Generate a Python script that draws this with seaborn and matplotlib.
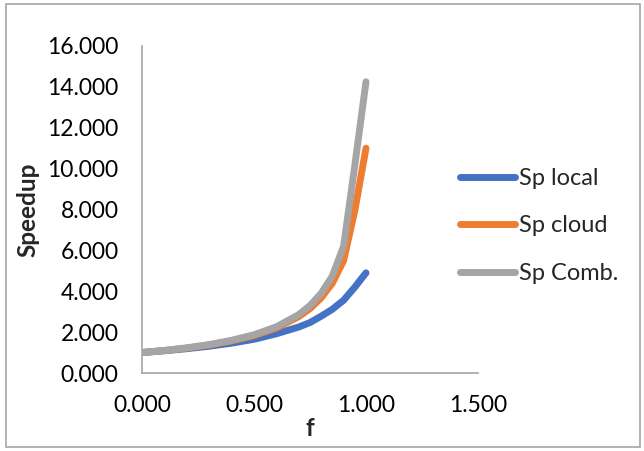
import numpy as np
import matplotlib
matplotlib.use("Agg")
import matplotlib.pyplot as plt
import pandas as pd
import seaborn as sns
from matplotlib.patches import Rectangle

# fraction f and speedup values
f_vals = [0.0, 0.1, 0.2, 0.3, 0.4, 0.5, 0.6, 0.7, 0.75, 0.8, 0.85, 0.9, 0.95, 1.0]
sp_local = [1.00, 1.09, 1.19, 1.31, 1.46, 1.65, 1.92, 2.25, 2.47, 2.78, 3.12, 3.56, 4.20, 4.90]
sp_cloud = [1.00, 1.10, 1.22, 1.37, 1.57, 1.83, 2.20, 2.76, 3.15, 3.68, 4.40, 5.50, 7.95, 11.00]
sp_comb = [1.00, 1.10, 1.23, 1.39, 1.60, 1.87, 2.26, 2.86, 3.30, 3.90, 4.75, 6.20, 10.15, 14.25]
series_names = ["Sp local", "Sp cloud", "Sp Comb."]
colors = ["#4472C4", "#ED7D31", "#A5A5A5"]

n = len(f_vals)
df = pd.DataFrame({
    "f": f_vals * 3,
    "speedup": sp_local + sp_cloud + sp_comb,
    "serie": [series_names[0]] * n + [series_names[1]] * n + [series_names[2]] * n,
})

sns.set_style("white")
plt.rcParams["font.family"] = ["Lato", "DejaVu Sans"]

fig = plt.figure(figsize=(6.44, 4.51), dpi=100)
ax = fig.add_axes([142 / 644, 1 - 373 / 451, 336 / 644, 327 / 451])

sns.lineplot(data=df, x="f", y="speedup", hue="serie", palette=colors,
             linewidth=5, solid_capstyle="round", solid_joinstyle="round",
             ax=ax, legend=False)

ax.set_xlim(0, 1.5)
ax.set_ylim(0, 16)
ax.set_xticks([0, 0.5, 1.0, 1.5])
ax.set_yticks(np.arange(0, 17, 2))
ax.xaxis.set_major_formatter(matplotlib.ticker.FormatStrFormatter("%.3f"))
ax.yaxis.set_major_formatter(matplotlib.ticker.FormatStrFormatter("%.3f"))

for s in ["top", "right"]:
    ax.spines[s].set_visible(False)
for s in ["left", "bottom"]:
    ax.spines[s].set_color("#A6A6A6")
    ax.spines[s].set_linewidth(1.2)

ax.tick_params(axis="both", which="major", direction="out", length=5,
               width=1.2, color="#A6A6A6", labelsize=16.5, labelcolor="black")
ax.tick_params(axis="x", pad=11)
ax.tick_params(axis="y", pad=12)
ax.set_xlabel("f", fontsize=17.5, fontweight="bold")
ax.set_ylabel("Speedup", fontsize=17.5, fontweight="bold")
ax.xaxis.set_label_coords(0.5, -0.135)
ax.yaxis.set_label_coords(-0.305, 0.5)

handles = [plt.Line2D([], [], color=c, lw=5, solid_capstyle="round") for c in colors]
fig.legend(handles, series_names, loc="center left",
           bbox_to_anchor=(460 / 644, 1 - 226 / 451), frameon=False,
           fontsize=17, handlelength=2.35, handletextpad=0.15,
           labelspacing=1.12, borderpad=0, borderaxespad=0)

fig.patches.append(Rectangle((6 / 644, 4 / 451), 634 / 644, 443 / 451,
                             transform=fig.transFigure, fill=False,
                             edgecolor="#A6A6A6", linewidth=1.2))

fig.savefig("out.png", dpi=100)
